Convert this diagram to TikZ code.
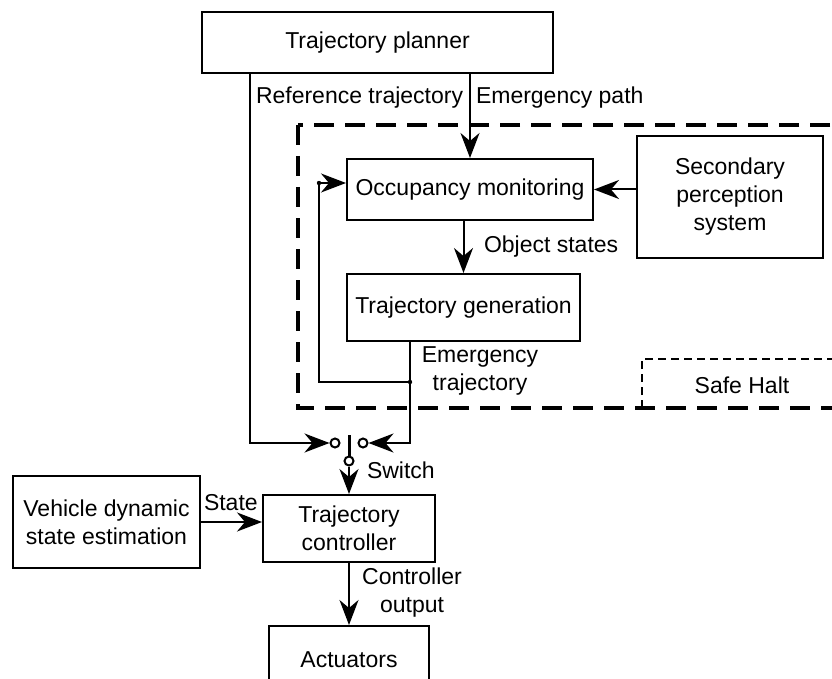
\documentclass[tikz,border=0pt]{standalone}
\usepackage{fontspec}
\setmainfont{Liberation Sans}
\usetikzlibrary{arrows.meta}

\tikzset{
  blk/.style={draw, line width=2pt, inner sep=0pt, align=center},
  lbl/.style={inner sep=0pt, align=center},
  arr/.style={line width=2pt, -{Stealth[length=25pt,width=19pt,inset=8pt]}},
  contact/.style={circle, draw, line width=2pt, fill=white, inner sep=0pt, minimum size=9pt},
}

\begin{document}
\begin{tikzpicture}[x=1pt,y=-1pt,line width=2pt,font=\fontsize{23}{28}\selectfont]
\useasboundingbox (0,0) rectangle (832,679);
%Safe Halt
\draw[line width=4.5pt, dash pattern=on 20pt off 11pt] (298,125) rectangle (870,408);
\draw[dash pattern=on 8pt off 5pt] (642,408) -- (642,359) -- (870,359);
\node[lbl] (halt) at (742,385) {Safe Halt};
%Boxes
\node[blk, minimum width=351pt, minimum height=61pt] (planner) at (377.5,42.5) {Trajectory planner};
\node[blk, minimum width=246pt, minimum height=61pt] (occ) at (470,189.5) {Occupancy monitoring};
\node[blk, minimum width=233pt, minimum height=67pt] (gen) at (463.5,307.5) {Trajectory generation};
\node[blk, minimum width=186pt, minimum height=122pt] (sec) at (730,197) {Secondary\\perception\\system};
\node[blk, minimum width=172pt, minimum height=67pt] (ctrl) at (349,528.5) {Trajectory\\controller};
\node[blk, minimum width=187pt, minimum height=92pt] (veh) at (106.5,522) {Vehicle dynamic\\state estimation};
\node[blk, minimum width=160pt, minimum height=80pt, text depth=0pt] (act) at (349,666) {\raisebox{12pt}{Actuators}};
%Switch
\node[contact] (swL) at (335,443) {};
\node[contact] (swR) at (363,443) {};
\node[contact] (swO) at (349,461) {};
\coordinate (bar) at (349,435);
\draw[line width=3pt] (bar) -- (swO.north);
%Connectors
\coordinate (refx) at (250,443);
\draw[arr] (planner.south -| refx) -- (refx) -- (swL);
\draw[arr] (planner.south -| occ.north) -- (occ.north);
\draw[arr] (sec.west |- occ.east) -- (occ.east);
\draw[arr] (occ.south -| gen.north) -- (gen.north);
\coordinate (fb) at (410,382);
\coordinate (fbc) at (319,183);
\draw (gen.south -| fb) -- (fb);
\draw[arr] (fb) -- (fb |- swR) -- (swR);
\draw[arr] (fb) -| (fbc) -- (fbc -| occ.west);
\fill (fb) circle (2.2pt);
\fill (fbc) circle (2.2pt);
\draw[arr] (swO) -- (ctrl.north);
\draw[arr] (veh.east) -- (veh.east -| ctrl.west);
\draw[arr] (ctrl.south) -- (act.north);
%Text
\node[lbl, anchor=west] (reftraj) at (255,98) {Reference trajectory};
\node[lbl, anchor=west] (emgpath) at (475,98) {Emergency path};
\node[lbl, anchor=west] (objst) at (483,247) {Object states};
\node[lbl] (emgtraj) at (480,371) {Emergency\\trajectory};
\node[lbl, anchor=west] (switch) at (366,470) {Switch};
\node[lbl, anchor=west] (state) at (203,503) {State};
\node[lbl] (ctrlout) at (412,593) {Controller\\output};
\end{tikzpicture}
\end{document}
